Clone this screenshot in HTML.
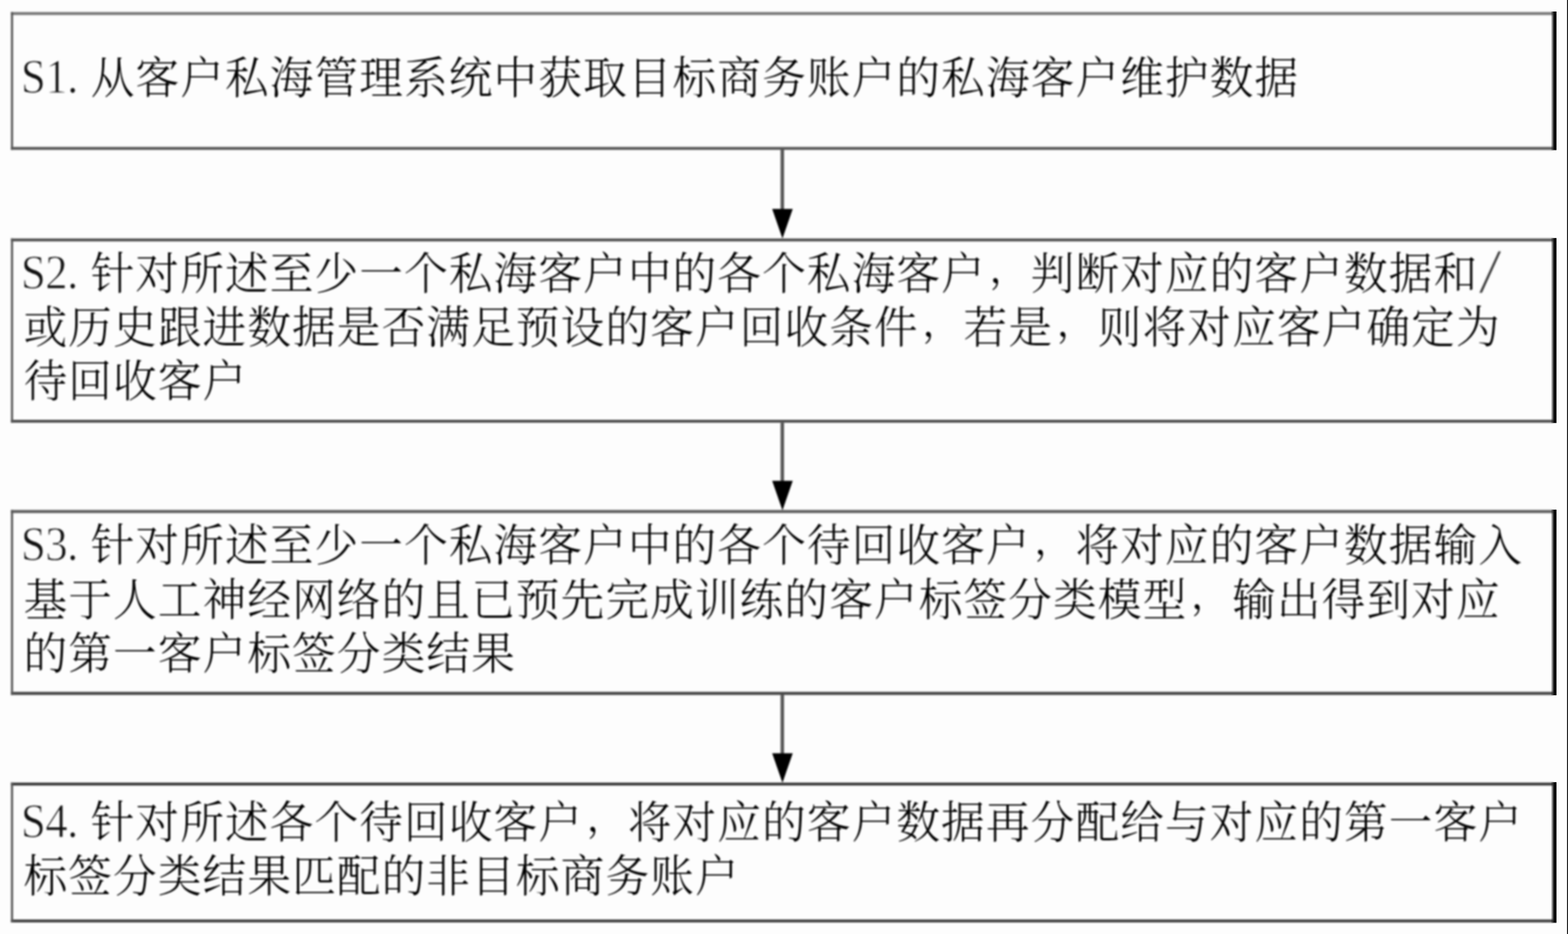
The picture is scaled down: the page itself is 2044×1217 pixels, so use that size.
<!DOCTYPE html>
<html lang="zh-CN">
<head>
<meta charset="utf-8">
<title>流程图</title>
<style>
html,body{margin:0;padding:0;background:#fdfdfd;}
body{width:2044px;height:1217px;position:relative;overflow:hidden;
  font-family:"Liberation Serif","Noto Serif CJK SC",serif;}
#shapes{position:absolute;left:0;top:0;width:2044px;height:1217px;filter:blur(0.9px);}
#edge{position:absolute;left:0;top:0;width:2044px;height:1217px;}
.step{margin:0;padding:0;}
.ln{position:absolute;left:30.675px;height:70px;line-height:70px;margin:0;white-space:nowrap;color:#000;
  font-size:57.0px;font-weight:300;letter-spacing:1.350px;filter:blur(1.0px);transform:scaleY(1.02);transform-origin:0 46.5%;}
.ln i{font-style:normal;font-weight:400;letter-spacing:0;font-size:58.35px;display:inline-block;width:29.175px;text-align:center;position:relative;top:-1.3px;
  transform:scale(0.97,1.07);transform-origin:50% 78.6%;color:#111;-webkit-text-stroke:1.0px #fdfdfd;}
.ln .lat{display:inline-block;width:87.525px;font-size:58.35px;font-weight:400;letter-spacing:-0.65px;position:relative;left:-3.4px;top:-1.3px;
  transform:scaleY(1.07);transform-origin:0 78.6%;color:#111;-webkit-text-stroke:1.0px #fdfdfd;}
.b1 .lat{top:-0.7px;}
.ln .c{position:relative;top:-8.6px;left:4.4px;font-size:51px;letter-spacing:7.350px;}
.ln i.l{left:1.0px;top:-3.8px;transform:scale(1.9,1.38);transform-origin:50% 50%;color:#333;}
</style>
</head>
<body>
<svg id="shapes" width="2044" height="1217" viewBox="0 0 2044 1217">
  <g fill="none" stroke-linecap="butt">
    <line x1="14.2" y1="17.6" x2="2025" y2="17.6" stroke="#747474" stroke-width="3.8"/>
    <line x1="14.2" y1="193.3" x2="2025" y2="193.3" stroke="#555" stroke-width="3.8"/>
    <line x1="15.7" y1="15.7" x2="15.7" y2="195.2" stroke="#585858" stroke-width="2.8"/>
    <line x1="14.2" y1="312.6" x2="2025" y2="312.6" stroke="#4e4e4e" stroke-width="3.8"/>
    <line x1="14.2" y1="548.8" x2="2025" y2="548.8" stroke="#4c4c4c" stroke-width="3.8"/>
    <line x1="15.7" y1="310.7" x2="15.7" y2="550.7" stroke="#585858" stroke-width="2.8"/>
    <line x1="14.2" y1="666.5" x2="2025" y2="666.5" stroke="#5e5e5e" stroke-width="3.8"/>
    <line x1="14.2" y1="903.5" x2="2025" y2="903.5" stroke="#454545" stroke-width="3.8"/>
    <line x1="15.7" y1="664.6" x2="15.7" y2="905.4" stroke="#585858" stroke-width="2.8"/>
    <line x1="14.2" y1="1021.6" x2="2025" y2="1021.6" stroke="#353535" stroke-width="3.8"/>
    <line x1="14.2" y1="1200" x2="2025" y2="1200" stroke="#484848" stroke-width="3.8"/>
    <line x1="15.7" y1="1019.7" x2="15.7" y2="1201.9" stroke="#585858" stroke-width="2.8"/>
  </g>
  <g>
    <line x1="1019.8" y1="195" x2="1019.8" y2="275" stroke="#585858" stroke-width="4.6"/>
    <polygon points="1006.6,272.3 1033.4,272.3 1020,310.8" fill="#000"/>
    <line x1="1019.8" y1="550.5" x2="1019.8" y2="629" stroke="#585858" stroke-width="4.6"/>
    <polygon points="1006.6,626.4 1033.4,626.4 1020,665" fill="#000"/>
    <line x1="1019.8" y1="905" x2="1019.8" y2="984" stroke="#585858" stroke-width="4.6"/>
    <polygon points="1006.6,981.4 1033.4,981.4 1020,1020" fill="#000"/>
  </g>
</svg>
<svg id="edge" width="2044" height="1217" viewBox="0 0 2044 1217">
  <defs>
    <linearGradient id="rb" x1="0" y1="0" x2="1" y2="0">
      <stop offset="0" stop-color="#000" stop-opacity="0"/>
      <stop offset="0.5" stop-color="#000" stop-opacity="0.85"/>
      <stop offset="0.62" stop-color="#000" stop-opacity="1"/>
      <stop offset="1" stop-color="#000" stop-opacity="1"/>
    </linearGradient>
  </defs>
  <g fill="url(#rb)">
    <rect x="2021.6" y="15" width="7.4" height="180.6"/>
    <rect x="2021.6" y="310.2" width="7.4" height="241"/>
    <rect x="2021.6" y="664.1" width="7.4" height="241.8"/>
    <rect x="2021.6" y="1019.2" width="7.4" height="183.2"/>
  </g>
  <rect x="2042.8" y="0" width="1.2" height="1217" fill="#000"/>
</svg>

<div class="step">
<div class="ln b1" style="top:68.01px"><span class="lat">S1.</span>从客户私海管理系统中获取目标商务账户的私海客户维护数据</div>
</div>
<div class="step">
<div class="ln b2" style="top:322.91px"><span class="lat">S2.</span>针对所述至少一个私海客户中的各个私海客户<span class="c">，</span>判断对应的客户数据和<i class="l">/</i></div>
<div class="ln b2" style="top:393.36px">或历史跟进数据是否满足预设的客户回收条件<span class="c">，</span>若是<span class="c">，</span>则将对应客户确定为</div>
<div class="ln b2" style="top:463.36px">待回收客户</div>
</div>
<div class="step">
<div class="ln b3" style="top:677.41px"><span class="lat">S3.</span>针对所述至少一个私海客户中的各个待回收客户<span class="c">，</span>将对应的客户数据输入</div>
<div class="ln b3" style="top:747.86px">基于人工神经网络的且已预先完成训练的客户标签分类模型<span class="c">，</span>输出得到对应</div>
<div class="ln b3" style="top:817.86px">的第一客户标签分类结果</div>
</div>
<div class="step">
<div class="ln b4" style="top:1037.81px"><span class="lat">S4.</span>针对所述各个待回收客户<span class="c">，</span>将对应的客户数据再分配给与对应的第一客户</div>
<div class="ln b4" style="top:1108.46px">标签分类结果匹配的非目标商务账户</div>
</div>
</body>
</html>
